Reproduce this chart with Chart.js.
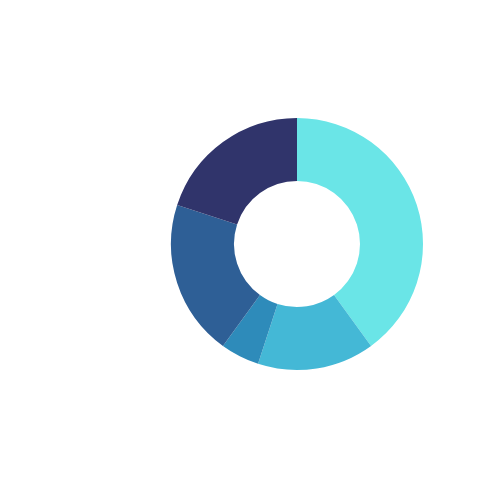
<!DOCTYPE html>
<html>
<head>
<meta charset="utf-8">
<script src="https://cdn.jsdelivr.net/npm/chart.js@4"></script>
<style>
  html, body { margin: 0; padding: 0; background: #fff; }
  #chart { display: block; }
</style>
</head>
<body>
<canvas id="chart" width="500" height="500"></canvas>
<script>
const labels = ['A', 'B', 'C', 'D', 'E'];
const values = [40, 15, 5, 20, 20];
const colors = ['#6AE5E7', '#44B8D6', '#2E8BBA', '#2E5F96', '#30346B'];

const ctx = document.getElementById('chart').getContext('2d');
new Chart(ctx, {
    type: 'doughnut',
    data: {
        labels: labels,
        datasets: [{
            data: values,
            backgroundColor: colors,
            borderWidth: 0
        }]
    },
    options: {
        responsive: false,
        animation: false,
        cutout: '50%',
        layout: {
            padding: { left: 171, right: 77, top: 118, bottom: 130 }
        },
        plugins: {
            legend: { display: false },
            tooltip: { enabled: false }
        }
    }
});
</script>
</body>
</html>
